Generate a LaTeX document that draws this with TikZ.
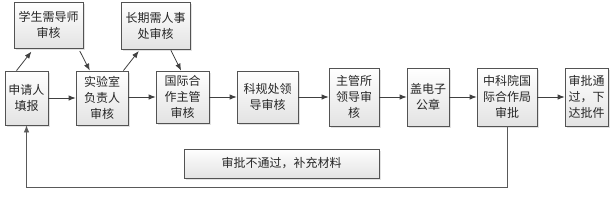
\documentclass[tikz,border=0pt]{standalone}
\usepackage{fontspec}
\setmainfont{Noto Sans CJK SC}
\usetikzlibrary{positioning,arrows.meta,shadows}

\tikzset{
  box/.style={draw=gray!65!black, line width=0.8pt, top color=white, bottom color=gray!22,
    drop shadow={shadow xshift=1.5pt, shadow yshift=-1.5pt, fill=gray!45},
    align=center, inner sep=1pt, text=black!85, font=\fontsize{12}{16}\selectfont},
  flow/.style={draw=black!75, line width=0.8pt, -{Latex[length=7pt,width=5.5pt]}},
}

\begin{document}
\begin{tikzpicture}[x=1pt,y=-1pt]
  \useasboundingbox (0,0) rectangle (613,201);

  % --- upper review boxes ---
  \node[box, minimum width=69pt, minimum height=46pt] (tutor) at (48.5,25) {学生需导师\\审核};
  \node[box, minimum width=69pt, minimum height=47pt] (hr) at (155.5,25.5) {长期需人事\\处审核};

  % --- main row ---
  \node[box, minimum width=43pt, minimum height=54pt] (apply) at (26.5,98) {申请人\\填报};
  \node[box, minimum width=52pt, minimum height=54pt] (lab) at (102,98) {实验室\\负责人\\审核};
  \node[box, minimum width=53pt, minimum height=52pt] (intl) at (182.5,97) {国际合\\作主管\\审核};
  \node[box, minimum width=61pt, minimum height=52pt] (keyi) at (267.5,97) {科规处领\\导审核};
  \node[box, minimum width=50pt, minimum height=58pt] (suo) at (354,97) {主管所\\领导审\\核};
  \node[box, minimum width=42pt, minimum height=58pt] (seal) at (428,97) {盖电子\\公章};
  \node[box, minimum width=60pt, minimum height=58pt] (cas) at (507,97) {中科院国\\际合作局\\审批};
  \node[box, minimum width=43pt, minimum height=58pt] (done) at (586.5,97) {审批通\\过，下\\达批件};

  % --- feedback note ---
  \node[box, minimum width=195pt, minimum height=29pt] (back) at (281.5,163.5) {审批不通过，补充材料};
  \coordinate (low) at (0,187);

  % --- forward arrows ---
  \draw[flow] (apply.east |- 0,98) -- (lab.west |- 0,98);
  \draw[flow] (lab.east |- 0,97) -- (intl.west);
  \foreach \a/\b in {intl/keyi, keyi/suo, suo/seal, seal/cas, cas/done}
    \draw[flow] (\a.east) -- (\b.west);

  % --- side reviews ---
  \draw[flow, shorten >=4pt] (apply.110) -- (tutor.238);
  \draw[flow, shorten <=3pt] (tutor.322) -- (lab.114);
  \draw[flow, shorten >=2pt] (lab.52) -- (hr.237);
  \draw[flow, shorten <=1pt] (hr.302) -- (intl.93);

  % --- return path ---
  \draw[flow, draw=gray!70!black] (cas.south) |- (low -| apply.south) -- (apply.south);
\end{tikzpicture}
\end{document}
